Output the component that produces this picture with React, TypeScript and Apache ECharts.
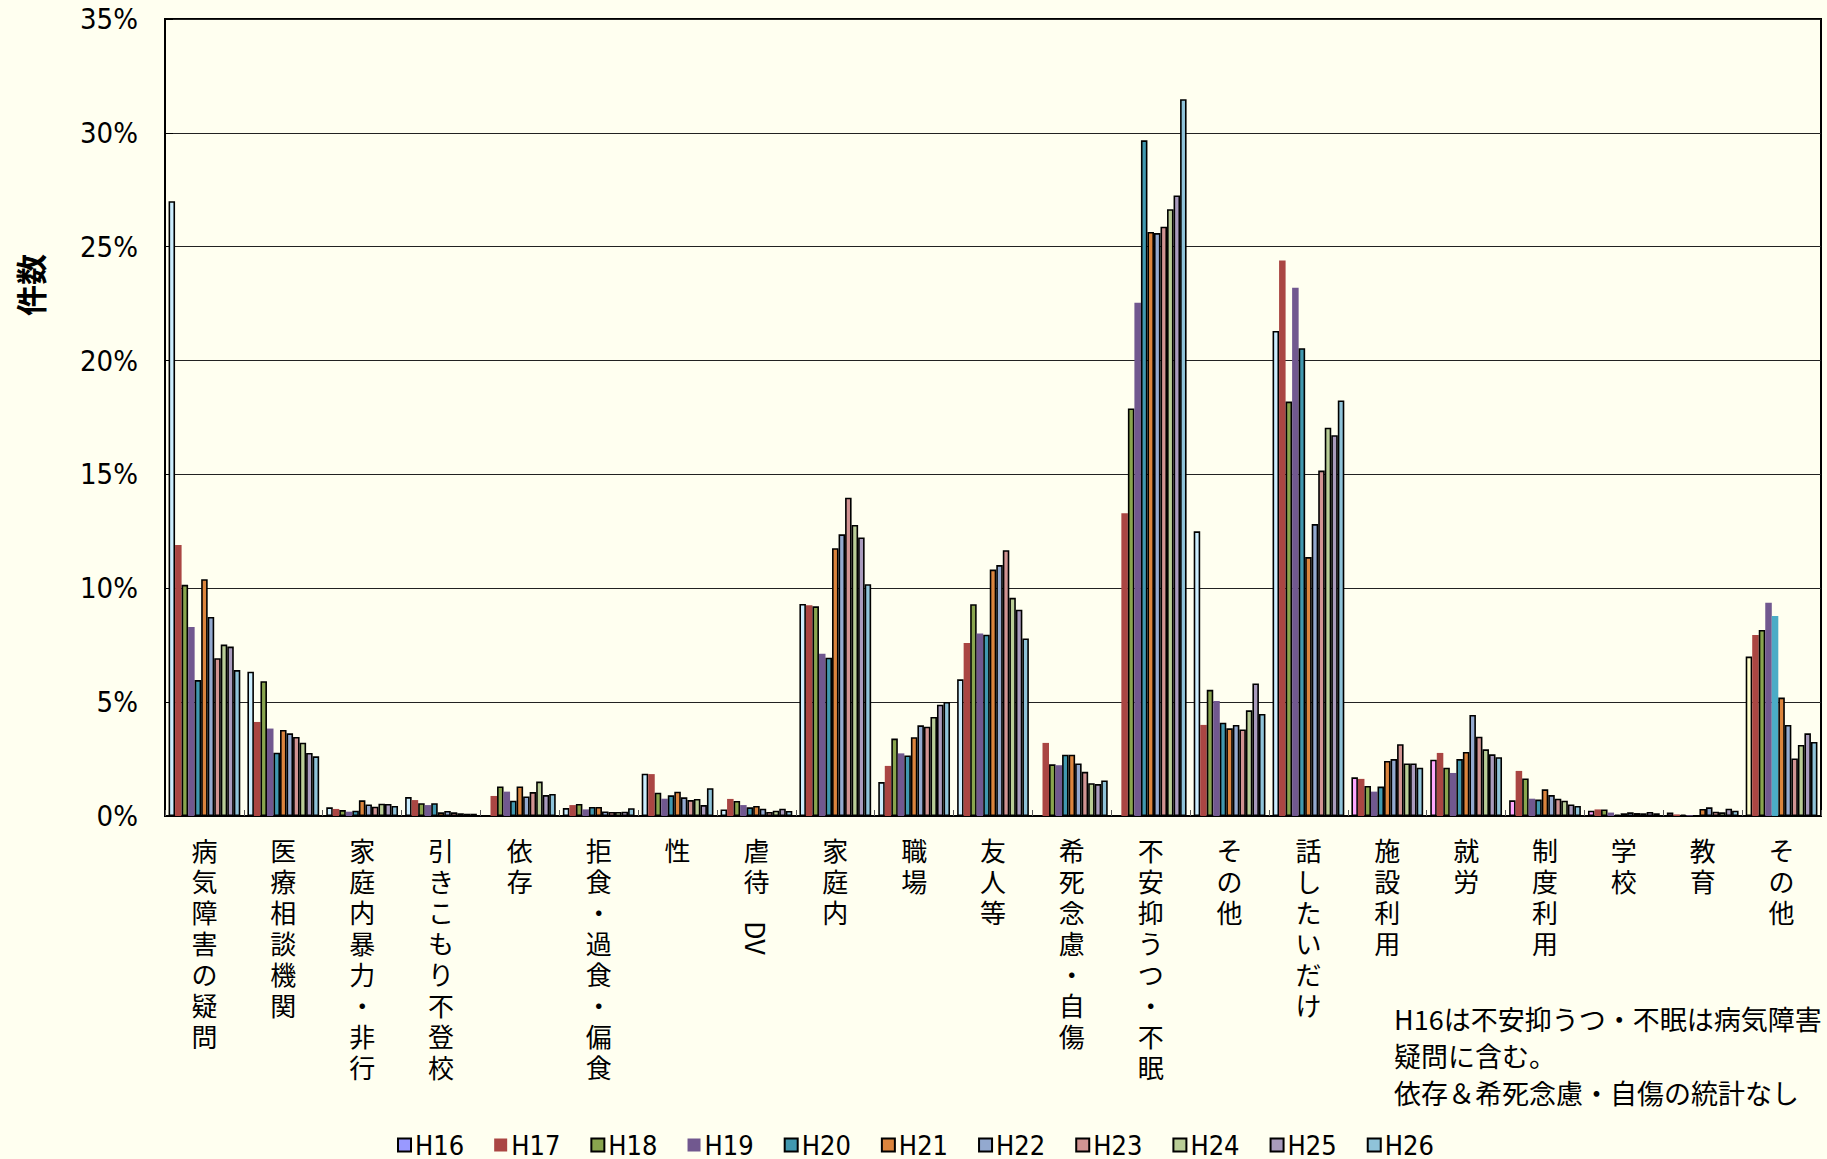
import React, { useEffect, useRef } from 'react';
import * as echarts from 'echarts';

const categories = [
  '病気障害の疑問', '医療相談機関', '家庭内暴力・非行', '引きこもり不登校', '依存',
  '拒食・過食・偏食', '性', '虐待　DV', '家庭内', '職場', '友人等', '希死念慮・自傷',
  '不安抑うつ・不眠', 'その他', '話したいだけ', '施設利用', '就労', '制度利用', '学校', '教育', 'その他',
];

const seriesNames = ['H16', 'H17', 'H18', 'H19', 'H20', 'H21', 'H22', 'H23', 'H24', 'H25', 'H26'];

const h16 = [27.0, 6.34, 0.38, 0.83, 0, 0.35, 1.86, 0.29, 9.31, 1.49, 6.0, 0, 0, 12.5, 21.3, 1.7, 2.47, 0.69, 0.23, 0.15, 7.0];
const h17 = [11.9, 4.13, 0.31, 0.7, 0.88, 0.48, 1.84, 0.75, 9.25, 2.2, 7.6, 3.21, 13.3, 4.0, 24.4, 1.63, 2.77, 1.98, 0.29, 0.07, 7.95];
const h18 = [10.15, 5.92, 0.26, 0.56, 1.3, 0.53, 1.02, 0.66, 9.21, 3.4, 9.3, 2.27, 17.9, 5.54, 18.2, 1.32, 2.12, 1.65, 0.29, 0.07, 8.17];
const h19 = [8.3, 3.84, 0.19, 0.48, 1.07, 0.29, 0.76, 0.48, 7.12, 2.75, 8.01, 2.23, 22.54, 5.05, 23.2, 1.07, 1.89, 0.76, 0.15, 0.03, 9.36];
const h20 = [5.97, 2.78, 0.23, 0.56, 0.67, 0.4, 0.91, 0.38, 6.95, 2.66, 7.96, 2.69, 29.67, 4.1, 20.54, 1.29, 2.5, 0.72, 0.07, 0.02, 8.78];
const h21 = [10.4, 3.78, 0.69, 0.16, 1.3, 0.4, 1.07, 0.44, 11.76, 3.46, 10.82, 2.69, 25.65, 3.85, 11.37, 2.42, 2.81, 1.17, 0.12, 0.31, 5.2];
const h22 = [8.74, 3.63, 0.51, 0.22, 0.86, 0.2, 0.82, 0.32, 12.37, 3.98, 11.02, 2.31, 25.6, 4.0, 12.82, 2.5, 4.44, 0.92, 0.16, 0.38, 4.0];
const h23 = [6.93, 3.47, 0.41, 0.16, 1.05, 0.18, 0.7, 0.18, 13.98, 3.92, 11.67, 1.94, 25.88, 3.8, 15.17, 3.15, 3.48, 0.76, 0.13, 0.19, 2.53];
const h24 = [7.53, 3.22, 0.54, 0.12, 1.51, 0.18, 0.75, 0.23, 12.78, 4.35, 9.58, 1.44, 26.65, 4.64, 17.05, 2.31, 2.93, 0.67, 0.12, 0.16, 3.12];
const h25 = [7.44, 2.77, 0.53, 0.1, 0.92, 0.19, 0.48, 0.32, 12.23, 4.89, 9.06, 1.4, 27.25, 5.82, 16.72, 2.31, 2.71, 0.51, 0.18, 0.32, 3.63];
const h26 = [6.41, 2.62, 0.44, 0.1, 0.97, 0.34, 1.22, 0.22, 10.18, 5.01, 7.8, 1.56, 31.48, 4.48, 18.25, 2.12, 2.58, 0.44, 0.12, 0.23, 3.25];

const seriesValues = [h16, h17, h18, h19, h20, h21, h22, h23, h24, h25, h26];

const yAxisTitle = '件数';
const noteLines = ['H16は不安抑うつ・不眠は病気障害', '疑問に含む。', '依存＆希死念慮・自傷の統計なし'];

// styles
const seriesColors = ['#9999FF', '#AA4643', '#89A54E', '#71588F', '#4198AF', '#DB843D', '#93A9CF', '#D19392', '#B9CD96', '#A99BBD', '#8FC3D9'];
const bordered = [true, false, true, false, true, true, true, true, true, true, true];
const h16BarColor = (i: number) => (i <= 14 ? '#CCEEFF' : i <= 19 ? '#FFA8FF' : '#FFFFCC');

const NUM_FONT = "'Liberation Sans Narrow', 'DejaVu Sans Condensed', 'Noto Sans CJK JP', sans-serif";
const JP_FONT = "'Noto Sans CJK JP', sans-serif";

export default function App() {
  const ref = useRef<HTMLDivElement>(null);
  useEffect(() => {
    if (!ref.current) return;
    const chart = echarts.init(ref.current, null, { renderer: 'svg' });
    const series = seriesNames.map((name, si) => ({
      name,
      type: 'bar',
      barGap: '0%',
      barCategoryGap: '9%',
      itemStyle: {
        color: seriesColors[si],
        borderColor: '#000',
        borderWidth: bordered[si] ? 1.6 : 0,
      },
      data: seriesValues[si].map((v, i) => {
        if (si === 0) return { value: v, itemStyle: { color: h16BarColor(i) } };
        if (si === 4 && i === 20) return { value: v, itemStyle: { color: '#4BACC6', borderWidth: 0 } };
        return v;
      }),
    }));
    chart.setOption({
      animation: false,
      backgroundColor: '#FFFFF0',
      grid: {
        left: 165, right: 6, top: 19, bottom: 343,
        show: true, borderColor: '#000', borderWidth: 2, backgroundColor: 'transparent',
      },
      legend: {
        data: seriesNames,
        left: 392,
        top: 1126,
        icon: 'rect',
        itemWidth: 13,
        itemHeight: 13,
        itemGap: 30,
        textStyle: { fontFamily: NUM_FONT, fontSize: 27, lineHeight: 28, color: '#000', padding: [0, 0, 0, -1] },
      },
      xAxis: {
        type: 'category',
        data: categories,
        axisLine: { lineStyle: { color: '#000', width: 2 } },
        axisTick: { show: true, inside: true, length: 6, lineStyle: { color: '#555' } },
        axisLabel: {
          interval: 0,
          margin: 18,
          fontFamily: JP_FONT,
          fontSize: 26,
          lineHeight: 31,
          color: '#000',
          verticalAlign: 'top',
          formatter: (v: string) => {
            const s = v === '虐待　DV' ? '虐待' : v;
            return s.split('').join('\n');
          },
        },
      },
      yAxis: {
        type: 'value',
        min: 0,
        max: 35,
        interval: 5,
        axisLine: { show: true, lineStyle: { color: '#000', width: 2 } },
        axisTick: { show: true, inside: true, length: 8, lineStyle: { color: '#000' } },
        splitLine: { show: true, lineStyle: { color: '#222', width: 1.2 } },
        axisLabel: {
          formatter: '{value}%',
          fontFamily: NUM_FONT,
          fontSize: 29,
          color: '#000',
          margin: 27,
        },
      },
      series,
    });
    const dvX = chart.convertToPixel({ xAxisIndex: 0 }, 7) as number;
    const base = chart.convertToPixel({ yAxisIndex: 0 }, 0) as number;
    chart.setOption({
      graphic: [
        {
          type: 'text',
          x: 29,
          y: 285,
          rotation: Math.PI / 2,
          style: {
            text: yAxisTitle,
            fontFamily: JP_FONT,
            fontWeight: 'bold',
            fontSize: 31,
            fill: '#000',
            align: 'center',
            verticalAlign: 'middle',
          },
        },
        {
          type: 'text',
          x: dvX,
          y: base + 122,
          rotation: -Math.PI / 2,
          style: {
            text: 'DV',
            fontFamily: JP_FONT,
            fontSize: 27,
            fill: '#000',
            align: 'center',
            verticalAlign: 'middle',
          },
        },
        {
          type: 'text',
          left: 1394,
          top: 1000,
          style: {
            text: noteLines.join('\n'),
            fontFamily: JP_FONT,
            fontSize: 27,
            lineHeight: 37,
            fill: '#000',
          },
        },
      ],
    });
    return () => chart.dispose();
  }, []);
  return (
    <div
      ref={ref}
      style={{ position: 'fixed', left: 0, top: 0, width: '100vw', height: '100vh', background: '#FFFFF0' }}
    />
  );
}
